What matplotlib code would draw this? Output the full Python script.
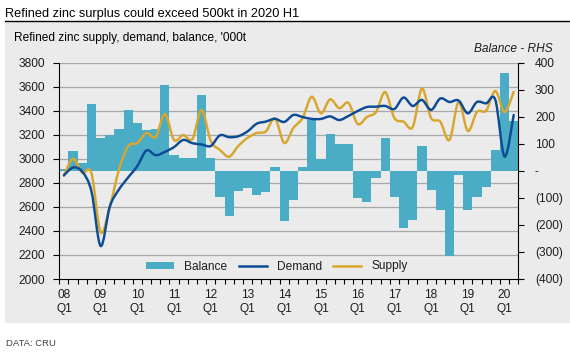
import numpy as np
import matplotlib
matplotlib.use('Agg')
import matplotlib.pyplot as plt
from matplotlib.path import Path
from matplotlib.patches import PathPatch, Rectangle
from matplotlib.lines import Line2D
import matplotlib.transforms as mtransforms

# ---------------- data ----------------
years = ['08', '09', '10', '11', '12', '13', '14', '15', '16', '17', '18', '19', '20']
quarters = [f"{y} Q{q}" for y in years for q in range(1, 5)][:50]

balance = [8, 73, 30, 248, 123, 133, 155, 225, 178, 152, 156, 319, 58, 46, 46, 282,
           46, -97, -166, -74, -65, -88, -77, 14, -185, -106, 14, 188, 44, 136, 99, 99,
           -102, -114, -26, 121, -96, -211, -182, 92, -71, -145, -314, -16, -145, -96,
           -59, 77, 361, 184]

demand = [2862, 2928, 2893, 2730, 2275, 2602, 2745, 2845, 2940, 3070, 3030, 3058,
          3098, 3157, 3130, 3120, 3107, 3196, 3180, 3188, 3228, 3292, 3310, 3333,
          3307, 3365, 3348, 3332, 3332, 3353, 3323, 3357, 3398, 3431, 3434, 3440,
          3415, 3510, 3440, 3490, 3407, 3502, 3473, 3485, 3379, 3473, 3462, 3490,
          3019, 3365]

supply = [2862, 3000, 2885, 2880, 2390, 2600, 2910, 3105, 3132, 3215, 3182, 3373,
          3157, 3198, 3165, 3406, 3149, 3074, 3018, 3107, 3174, 3215, 3228, 3336,
          3132, 3257, 3340, 3517, 3379, 3495, 3421, 3465, 3290, 3348, 3390, 3556,
          3340, 3309, 3265, 3585, 3340, 3309, 3157, 3473, 3232, 3390, 3402, 3565,
          3390, 3559]

left_ticks = [2000, 2200, 2400, 2600, 2800, 3000, 3200, 3400, 3600, 3800]
right_ticks = [-400, -300, -200, -100, 0, 100, 200, 300, 400]
right_labels = ['(400)', '(300)', '(200)', '(100)', '-', '100', '200', '300', '400']

C_BAR = '#4bacc6'
C_DEM = '#0b4c95'
C_SUP = '#d8a62c'
C_TXT = '#1e1e1e'
C_GRID = '#a8a8a8'
C_PANEL = '#ebebeb'

plt.rcParams['font.family'] = ['Liberation Sans', 'DejaVu Sans']
FS = 8.6

W, H = 570, 353
fig = plt.figure(figsize=(W / 100, H / 100), dpi=100)
fig.patch.set_facecolor('white')

# grey panel
fig.add_artist(Rectangle((5 / W, 1 - 323 / H), 1 - 5 / W, (323 - 22) / H,
                         transform=fig.transFigure, facecolor=C_PANEL,
                         edgecolor='none', zorder=0))
# title & rule
fig.text(5 / W, 1 - 17.5 / H, 'Refined zinc surplus could exceed 500kt in 2020 H1',
         fontsize=9.2, va='baseline', ha='left', color='black')
fig.add_artist(Line2D([5 / W, 1], [1 - 21 / H, 1 - 21 / H], transform=fig.transFigure,
                      color='black', lw=1.0))
fig.text(14 / W, 1 - 41 / H, "Refined zinc supply, demand, balance, '000t",
         fontsize=FS, va='baseline', ha='left', color='black')
fig.text(553 / W, 1 - 52.5 / H, 'Balance - RHS', fontsize=FS, style='italic',
         va='baseline', ha='right', color=C_TXT)
fig.text(6 / W, 1 - 346.5 / H, 'DATA: CRU', fontsize=6.8, va='baseline', ha='left',
         color='#404040')

L, R, T, B = 59.3, 518.3, 62.7, 279.0
ax = fig.add_axes([L / W, 1 - B / H, (R - L) / W, (B - T) / H])
ax2 = ax.twinx()
ax.set_zorder(2)
ax2.set_zorder(1)
ax.patch.set_visible(False)
ax2.patch.set_visible(False)

x = np.arange(len(quarters))
ax.set_xlim(-0.5, len(quarters) - 0.5)
ax.set_ylim(left_ticks[0], left_ticks[-1])
ax2.set_ylim(right_ticks[0], right_ticks[-1])

# gridlines (left scale) behind bars
trans = mtransforms.blended_transform_factory(ax2.transAxes, ax.transData)
for v in left_ticks[1:]:
    ax2.add_line(Line2D([0, 1], [v, v], transform=trans, color=C_GRID, lw=0.9, zorder=0.5))

ax2.bar(x, balance, width=1.0, color=C_BAR, edgecolor='none', zorder=2)


def smooth_path(xs, ys):
    pts = np.column_stack([xs, ys]).astype(float)
    n = len(pts)
    verts = [pts[0]]
    codes = [Path.MOVETO]
    for i in range(n - 1):
        p0 = pts[i - 1] if i > 0 else pts[i]
        p1 = pts[i]
        p2 = pts[i + 1]
        p3 = pts[i + 2] if i + 2 < n else pts[i + 1]
        c1 = p1 + (p2 - p0) / 6.0
        c2 = p2 - (p3 - p1) / 6.0
        verts += [c1, c2, p2]
        codes += [Path.CURVE4] * 3
    return Path(verts, codes)


ax.add_patch(PathPatch(smooth_path(x, supply), fill=False, edgecolor=C_SUP, lw=1.75,
                       capstyle='round', joinstyle='round', zorder=3))
ax.add_patch(PathPatch(smooth_path(x, demand), fill=False, edgecolor=C_DEM, lw=1.75,
                       capstyle='round', joinstyle='round', zorder=4))

# axes styling
for s in ['top', 'right']:
    ax.spines[s].set_visible(False)
for s in ['top', 'left', 'bottom']:
    ax2.spines[s].set_visible(False)
for s in ['left', 'bottom']:
    ax.spines[s].set_color('black')
    ax.spines[s].set_linewidth(0.8)
ax2.spines['right'].set_color('black')
ax2.spines['right'].set_linewidth(0.8)

ax.set_yticks(left_ticks)
ax.tick_params(axis='y', direction='out', length=4, width=0.8, pad=6,
               labelsize=FS, labelcolor=C_TXT)
ax2.set_yticks(right_ticks, right_labels)
ax2.tick_params(axis='y', direction='out', length=4, width=0.8, pad=8,
                labelsize=FS, labelcolor=C_TXT)

ax.set_xticks(np.arange(-0.5, len(quarters), 1.0))
ax.set_xticklabels([])
ax.tick_params(axis='x', which='major', direction='out', length=3.5, width=0.8)
lab_pos = [i for i, q in enumerate(quarters) if q.endswith('Q1')]
lab_txt = [quarters[i].replace(' ', '\n') for i in lab_pos]
ax.set_xticks(lab_pos, minor=True)
ax.set_xticklabels(lab_txt, minor=True, fontsize=FS, color=C_TXT, linespacing=1.25)
ax.tick_params(axis='x', which='minor', length=0, pad=7)

handles = [Rectangle((0, 0), 1, 1, facecolor=C_BAR, edgecolor='none'),
           Line2D([], [], color=C_DEM, lw=1.8),
           Line2D([], [], color=C_SUP, lw=1.8)]
ax.legend(handles, ['Balance', 'Demand', 'Supply'], loc='center left',
          bbox_to_anchor=((146 - L) / (R - L), (B - 266.5) / (B - T)),
          ncol=3, frameon=False, fontsize=FS, handlelength=2.35, handleheight=0.48,
          handletextpad=0.85, columnspacing=0.95, borderpad=0, borderaxespad=0,
          labelcolor=C_TXT)

fig.savefig('out.png', dpi=100)
